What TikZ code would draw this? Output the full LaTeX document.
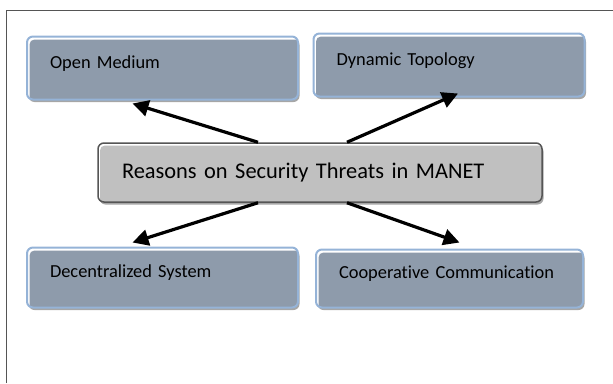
\documentclass[tikz,border=0pt]{standalone}
\usepackage{fontspec}
\setmainfont{Carlito}[Ligatures=NoCommon]
\usetikzlibrary{arrows.meta,shadows}
\definecolor{slate}{HTML}{8E9BAB}
\definecolor{edgeblue}{HTML}{95B3D7}
\definecolor{centgray}{HTML}{C0C0C0}
\definecolor{framegray}{HTML}{555555}
\tikzset{
  topic/.style={rectangle,rounded corners=6pt,draw=edgeblue,line width=2pt,fill=white,
    path picture={\fill[slate,rounded corners=5pt]
      ([shift={(2.5pt,-3pt)}]path picture bounding box.north west) rectangle
      ([shift={(6pt,-6pt)}]path picture bounding box.south east);},
    drop shadow={shadow xshift=1.5pt,shadow yshift=-2.5pt,fill=black!35,opacity=1},
    inner xsep=23pt,inner ysep=0pt,text width=#1,align=left,
    text height=5pt,text depth=5pt,font=\fontsize{18.4}{22}\selectfont},
  topic/.default=225pt,
  reason/.style={rectangle,rounded corners=6pt,draw=framegray,line width=1.5pt,fill=white,
    path picture={\fill[centgray,rounded corners=5pt]
      ([shift={(2pt,-2.5pt)}]path picture bounding box.north west) rectangle
      ([shift={(6pt,-6pt)}]path picture bounding box.south east);},
    drop shadow={shadow xshift=1.5pt,shadow yshift=-2.5pt,fill=black!35,opacity=1},
    inner xsep=24pt,text width=396pt,align=left,minimum height=59pt,
    font=\fontsize{22.4}{27}\selectfont},
  arr/.style={line width=3.2pt,-{Triangle[length=16pt,width=16pt]}}
}
\begin{document}
\begin{tikzpicture}[x=1pt,y=-1pt]
\useasboundingbox (0,0) rectangle (613,383);
\draw[framegray,line width=0.8pt] (6,383) -- (6,10) -- (613,10);
\node[topic,minimum height=63pt] (open) at (162.5,68) {Open Medium};
\node[topic,minimum height=63pt] (dyn) at (449,65) {Dynamic Topology};
\node[topic,minimum height=60pt] (decen) at (162.5,277.5) {Decentralized System};
\node[topic=221pt,minimum height=58pt] (coop) at (449.5,278.5) {Cooperative Communication};
\node[reason] (why) at (320,172.5) {Reasons on Security Threats in MANET};
\draw[arr] ([xshift=-62pt]why.north) -- ([xshift=-30pt,yshift=-3pt]open.south);
\draw[arr] ([xshift=27pt]why.north) -- ([xshift=9pt,yshift=4pt]dyn.south);
\draw[arr] ([xshift=-62pt]why.south) -- ([xshift=-30pt,yshift=4pt]decen.north);
\draw[arr] ([xshift=27pt]why.south) -- ([xshift=10pt,yshift=6pt]coop.north);
\end{tikzpicture}
\end{document}
